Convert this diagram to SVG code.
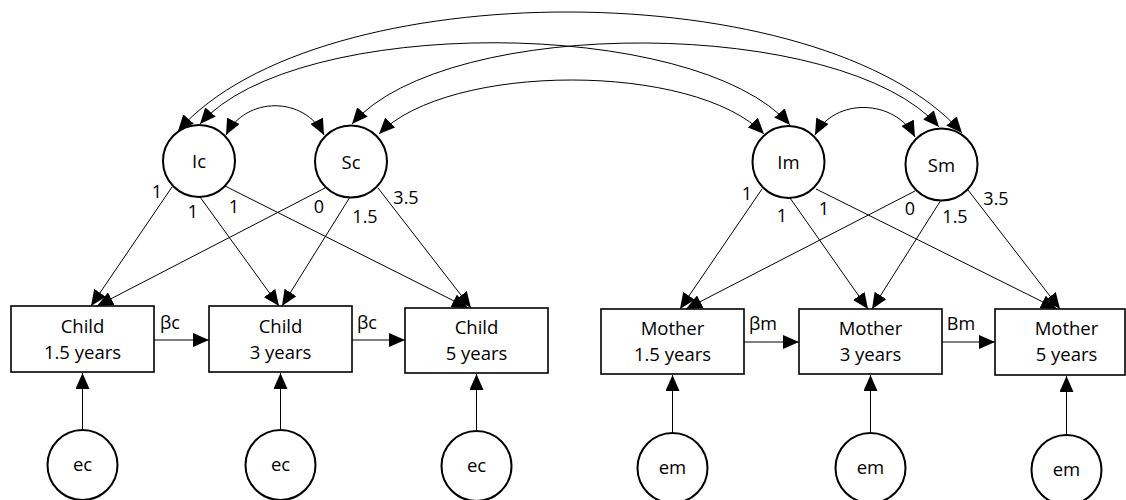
<svg xmlns="http://www.w3.org/2000/svg" width="1126" height="500" viewBox="0 0 1126 500">
<defs>
<marker id="ah" viewBox="0 0 16 14" refX="16" refY="7" markerWidth="16" markerHeight="14" markerUnits="userSpaceOnUse" orient="auto-start-reverse"><path d="M0,0 L16,7 L0,14 Z" fill="#000"/></marker>
</defs>
<style>
.box{fill:#fff;stroke:#000;stroke-width:1.6}
.circ{fill:#fff;stroke:#000;stroke-width:2}
text{font-family:"Open Sans","Noto Sans",sans-serif;font-size:18.5px;fill:#000;text-anchor:middle}
.lb{font-size:18px}
.arr{fill:none;stroke:#000;stroke-width:1;marker-end:url(#ah)}
.cov{fill:none;stroke:#000;stroke-width:1;marker-start:url(#ah);marker-end:url(#ah)}
</style>
<rect width="1126" height="500" fill="#fff"/>

<g id="Ic"><circle class="circ" cx="199" cy="161" r="36"/><text x="199" y="168">Ic</text></g>
<g id="Sc"><circle class="circ" cx="351" cy="161.5" r="36"/><text x="351" y="169">Sc</text></g>
<g id="Im"><circle class="circ" cx="788.5" cy="162" r="36"/><text x="788.5" y="169">Im</text></g>
<g id="Sm"><circle class="circ" cx="941.5" cy="164.5" r="36"/><text x="941.5" y="171.5">Sm</text></g>

<g id="child15"><rect class="box" x="11" y="306" width="143" height="66"/><text x="82.5" y="333">Child</text><text x="82.5" y="359">1.5 years</text></g>
<g id="child3"><rect class="box" x="209" y="306" width="143" height="66"/><text x="280.5" y="333">Child</text><text x="280.5" y="359">3 years</text></g>
<g id="child5"><rect class="box" x="405" y="308" width="143" height="65"/><text x="476.5" y="334">Child</text><text x="476.5" y="360">5 years</text></g>
<g id="mother15"><rect class="box" x="601" y="309" width="143" height="65"/><text x="672.5" y="335">Mother</text><text x="672.5" y="361">1.5 years</text></g>
<g id="mother3"><rect class="box" x="799" y="309" width="143" height="65"/><text x="870.5" y="335">Mother</text><text x="870.5" y="361">3 years</text></g>
<g id="mother5"><rect class="box" x="995" y="309" width="130" height="66"/><text x="1066.5" y="335">Mother</text><text x="1066.5" y="361">5 years</text></g>

<g id="ec1"><circle class="circ" cx="82.5" cy="465" r="35"/><text x="82.5" y="471">ec</text></g>
<g id="ec2"><circle class="circ" cx="280.5" cy="465" r="35"/><text x="280.5" y="471">ec</text></g>
<g id="ec3"><circle class="circ" cx="476.5" cy="466" r="35"/><text x="476.5" y="472">ec</text></g>
<g id="em1"><circle class="circ" cx="672.5" cy="468" r="35"/><text x="672.5" y="474">em</text></g>
<g id="em2"><circle class="circ" cx="870.5" cy="468" r="35"/><text x="870.5" y="474">em</text></g>
<g id="em3"><circle class="circ" cx="1066.5" cy="470" r="35"/><text x="1066.5" y="476">em</text></g>

<g id="connectors">
<path class="cov" d="M178,131 C318,-29 822,-27 962,133"/>
<path class="cov" d="M200,124 C295,15 695,16 790,125"/>
<path class="cov" d="M352,124 C447,14 844,17 939,127"/>
<path class="cov" d="M379,134 C449,62 694,62 764,134"/>
<path class="cov" d="M226,135 C246,96 304,96 324,135"/>
<path class="cov" d="M815,135 C835,97 895,99 915,137"/>

<line class="arr" x1="172" y1="187" x2="91" y2="306"/>
<line class="arr" x1="325" y1="188" x2="97" y2="306"/>
<line class="arr" x1="200" y1="197" x2="279" y2="306"/>
<line class="arr" x1="350" y1="197" x2="282" y2="306"/>
<line class="arr" x1="225" y1="186" x2="468" y2="308"/>
<line class="arr" x1="378" y1="188" x2="471" y2="308"/>

<line class="arr" x1="762" y1="189" x2="680" y2="309"/>
<line class="arr" x1="915" y1="191" x2="686" y2="309"/>
<line class="arr" x1="790" y1="198" x2="868" y2="309"/>
<line class="arr" x1="941" y1="200" x2="872" y2="309"/>
<line class="arr" x1="816" y1="189" x2="1057" y2="309"/>
<line class="arr" x1="968" y1="190" x2="1060" y2="309"/>

<line class="arr" x1="154" y1="340" x2="209" y2="340"/>
<line class="arr" x1="352" y1="340" x2="405" y2="340"/>
<line class="arr" x1="744" y1="342" x2="799" y2="342"/>
<line class="arr" x1="942" y1="342" x2="995" y2="342"/>

<line class="arr" x1="82.5" y1="430" x2="82.5" y2="373"/>
<line class="arr" x1="280.5" y1="430" x2="280.5" y2="373"/>
<line class="arr" x1="476.5" y1="431" x2="476.5" y2="374"/>
<line class="arr" x1="672.5" y1="433" x2="672.5" y2="375"/>
<line class="arr" x1="870.5" y1="433" x2="870.5" y2="375"/>
<line class="arr" x1="1066.5" y1="435" x2="1066.5" y2="376"/>
</g>

<g id="labels">
<text class="lb" x="157" y="197.5">1</text>
<text class="lb" x="193" y="217.5">1</text>
<text class="lb" x="234" y="212.5">1</text>
<text class="lb" x="319" y="212.5">0</text>
<text class="lb" x="365" y="222.5">1.5</text>
<text class="lb" x="406" y="203.5">3.5</text>
<text class="lb" x="747" y="199.5">1</text>
<text class="lb" x="782" y="221.5">1</text>
<text class="lb" x="824" y="214.5">1</text>
<text class="lb" x="910" y="214.5">0</text>
<text class="lb" x="955" y="222.5">1.5</text>
<text class="lb" x="996" y="204.5">3.5</text>
<text class="lb" x="170" y="329">βc</text>
<text class="lb" x="367" y="329">βc</text>
<text class="lb" x="763" y="330">βm</text>
<text class="lb" x="961" y="330">Bm</text>
</g>
</svg>
